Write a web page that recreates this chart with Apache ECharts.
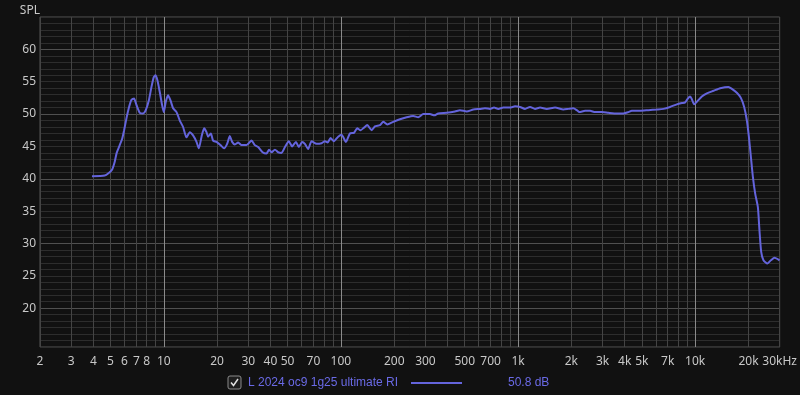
<!DOCTYPE html>
<html><head><meta charset="utf-8">
<script src="https://cdn.jsdelivr.net/npm/echarts@6/dist/echarts.min.js"></script>
<style>html,body{margin:0;padding:0;background:#111111;}#c{width:800px;height:395px;}</style>
</head><body><div id="c"></div>
<script>
// ---- data ----
const freqs = [3.93,4.64,4.89,5.10,5.28,5.42,5.64,5.81,5.97,6.15,6.34,6.57,6.79,7.01,7.32,7.64,7.91,8.23,8.52,8.78,8.97,9.21,9.49,9.78,10.0,10.26,10.57,10.91,11.28,11.8,12.31,12.85,13.43,14.02,14.63,15.3,15.77,16.33,16.89,17.42,17.79,18.43,18.98,19.85,20.9,21.9,22.78,23.6,24.31,25.2,26.29,27.47,29.32,31.29,32.66,34.1,36.1,38.0,39.3,40.6,42.4,44.2,46.2,48.3,50.8,53.0,55.7,57.9,60.4,62.6,65.3,68.3,72.9,77.8,81.2,84.1,87.4,91.3,96.5,100.9,106.7,112.4,118.4,123.6,129.2,134.9,140.8,149.1,155.6,166.1,173.4,182.6,197.4,215.4,235.0,256.1,273.3,291.6,318.3,336.5,354.5,395.5,440.6,470,512.9,558.8,609.9,650.8,694.6,731.7,773.8,825.7,900.8,961.4,1026,1095,1169,1247,1331,1452,1618,1803,1924,2053,2146,2220,2390,2551,2722,2970,3236,3611,3934,4198,4388,4888,5445,6076,6620,7221,7879,8409,8780,9092,9368,9577,9867,10220,10907,11641,12689,13845,15418,16115,17197,18113,18911,19585,20105,20635,21180,21824,22600,23074,23596,24300,25600,26760,28060,29940];
const spl = [40.4,40.5,40.9,41.4,42.6,44.0,45.2,46.1,47.5,49.3,50.9,52.2,52.4,51.4,50.2,50.1,50.6,52.1,54.2,55.7,56.0,55.2,53.4,51.4,50.3,51.9,52.9,52.1,50.9,50.3,49.0,48.0,46.4,47.2,46.7,45.7,44.7,46.5,47.8,47.2,46.5,47.0,45.9,45.7,45.2,44.7,45.4,46.6,45.7,45.3,45.6,45.2,45.2,45.9,45.2,44.9,44.1,43.9,44.5,44.1,44.5,44.1,44.0,44.9,45.8,45.0,45.7,44.9,45.7,45.4,44.6,45.8,45.4,45.5,45.8,45.6,46.3,45.8,46.5,46.8,45.7,47.0,47.1,47.8,47.5,47.9,48.3,47.5,48.1,48.3,48.8,48.4,48.8,49.2,49.5,49.7,49.5,50.0,50.0,49.8,50.1,50.2,50.4,50.6,50.4,50.7,50.8,50.9,50.8,51.0,50.8,51.0,51.0,51.2,51.1,50.8,51.1,50.8,51.0,50.8,51.0,50.7,50.8,50.9,50.6,50.3,50.5,50.5,50.3,50.3,50.2,50.1,50.1,50.3,50.5,50.5,50.6,50.7,50.8,51.1,51.5,51.7,51.8,52.4,52.7,52.3,51.5,51.9,52.7,53.2,53.6,54.0,54.2,53.9,53.3,52.5,51.1,49.0,46.5,43.4,40.3,37.7,35.6,32.0,28.7,27.4,26.9,27.4,27.8,27.4];
const xTickLabels = [2,3,4,5,6,7,8,10,20,30,40,50,70,100,200,300,500,700,1000,2000,3000,4000,5000,7000,10000,20000,30000];
const yTickLabels = [20,25,30,35,40,45,50,55,60];
const seriesName = 'L 2024 oc9 1g25 ultimate RI';
const legendValue = '50.8 dB';
const yAxisName = 'SPL';
const xUnit = 'Hz';

// grid line positions (1..9 per decade)
const xGridLines = [];
[1,10,100,1000,10000].forEach(d => { for (let m = 1; m <= 9; m++) { const v = d*m; if (v >= 2 && v <= 30000) xGridLines.push(v); } });

const FONT = "'Noto Sans', 'Open Sans', sans-serif";
const LFONT = "'Liberation Sans', Arial, sans-serif";
const lineColor = '#6464dc';
const chart = echarts.init(document.getElementById('c'), null, {renderer: 'canvas'});
const data = freqs.map((f, i) => [f, spl[i]]);

const xColors = ['#444','#444','#444','#444','#444','#444','#444','#444','#8a8a8a'];
const yColors = ['#2d2d2d','#2d2d2d','#2d2d2d','#2d2d2d','#2d2d2d','#2d2d2d','#505050','#2d2d2d','#2d2d2d','#2d2d2d'];

chart.setOption({
  backgroundColor: '#111111',
  animation: false,
  grid: {left: 40, right: 20, top: 17, bottom: 48, show: true, borderColor: '#555', borderWidth: 1, backgroundColor: 'transparent'},
  xAxis: {
    type: 'log', logBase: 10, min: 2, max: 30000,
    axisLine: {show: false},
    axisTick: {show: false, customValues: xGridLines},
    splitLine: {show: true, lineStyle: {color: xColors, width: 1}},
    minorTick: {show: false}, minorSplitLine: {show: false},
    axisLabel: {
      customValues: xTickLabels, margin: 9, color: '#c8c8c8', fontSize: 12, fontFamily: FONT,
      formatter: v => { let s = v >= 1000 ? (v/1000) + 'k' : String(v); if (v === xTickLabels[xTickLabels.length-1]) s += xUnit; return s; }
    }
  },
  yAxis: {
    type: 'value', min: 14, max: 65, interval: 1,
    name: yAxisName, nameLocation: 'end', nameGap: 0,
    nameTextStyle: {color: '#c8c8c8', fontSize: 12, fontFamily: FONT, align: 'right', padding: [0, 0, 0, 0]},
    axisLine: {show: false}, axisTick: {show: false},
    splitLine: {show: true, lineStyle: {color: yColors, width: 1}},
    axisLabel: {margin: 4, color: '#c8c8c8', fontSize: 12, fontFamily: FONT,
      formatter: v => yTickLabels.indexOf(v) >= 0 ? String(v) : ''}
  },
  series: [{
    name: seriesName, type: 'line', data: data, showSymbol: false, smooth: 0.2,
    lineStyle: {color: lineColor, width: 2}, itemStyle: {color: lineColor}
  }],
  graphic: [
    {type: 'rect', shape: {x: 228, y: 376, width: 13, height: 13, r: 2}, style: {fill: '#1e1e1e', stroke: '#8a8a8a', lineWidth: 1}},
    {type: 'polyline', shape: {points: [[231, 382.5], [233.5, 385.5], [238, 379]]}, style: {stroke: '#e0e0e0', lineWidth: 1.5, fill: null}},
    {type: 'text', x: 248, y: 383, style: {text: seriesName, fill: '#6a6ae6', font: '12px ' + LFONT, textVerticalAlign: 'middle', verticalAlign: 'middle'}},
    {type: 'line', shape: {x1: 411, y1: 383, x2: 462, y2: 383}, style: {stroke: lineColor, lineWidth: 2}},
    {type: 'text', x: 508, y: 383, style: {text: legendValue, fill: '#6a6ae6', font: '12px ' + LFONT, textVerticalAlign: 'middle', verticalAlign: 'middle'}}
  ]
});
</script>
</body></html>
